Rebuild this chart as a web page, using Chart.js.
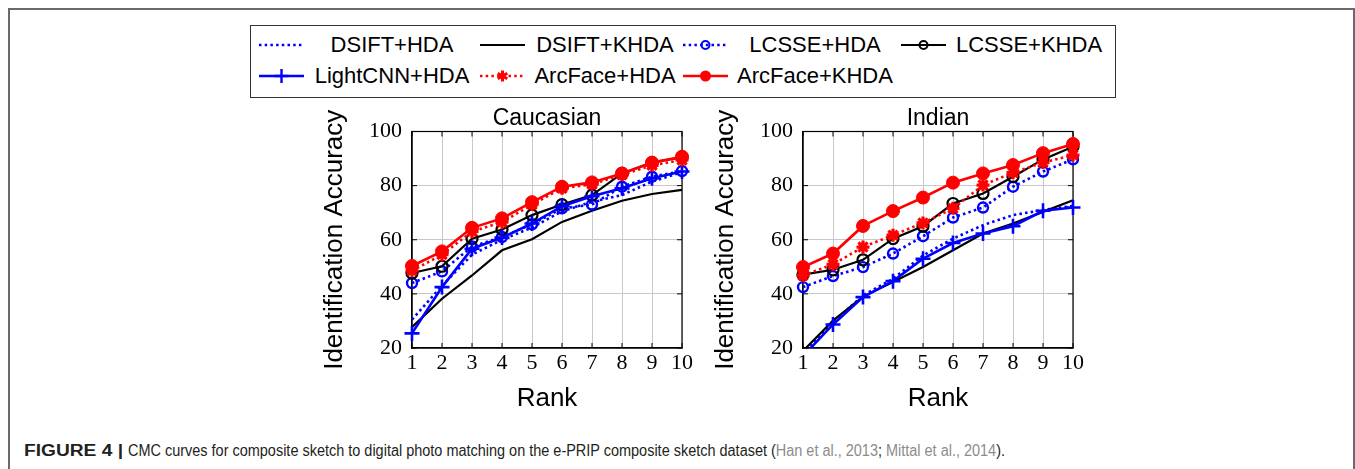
<!DOCTYPE html>
<html><head><meta charset="utf-8">
<script src="https://cdn.jsdelivr.net/npm/chart.js@4.4.1/dist/chart.umd.min.js"></script>
<style>
html,body{margin:0;padding:0;background:#fff;width:1355px;height:469px;overflow:hidden;position:relative;font-family:"Liberation Sans",Arial,sans-serif;}
#frame{position:absolute;left:8px;top:8px;width:1347px;height:480px;border:2px solid #6a6a6a;border-bottom:none;box-sizing:border-box;}
#legend{position:absolute;left:250px;top:25px;width:866px;height:73px;border:1px solid #333;box-sizing:border-box;}
.lt{position:absolute;font-size:22px;line-height:26px;color:#000;white-space:nowrap;transform:translateX(-50%);}
.ls{position:absolute;}
.ptitle{position:absolute;font-size:23px;line-height:26px;color:#000;white-space:nowrap;transform:translateX(-50%);top:104px;}
canvas{position:absolute;}
#c1{left:299px;top:100px;}
#c2{left:690px;top:100px;}
.cap{position:absolute;top:442px;font-size:16px;line-height:18px;color:#231f20;white-space:nowrap;transform-origin:0 0;font-family:"Liberation Sans",Arial,sans-serif;}
#capB{left:24px;font-weight:bold;}
#capR{left:128px;}
.cap .ref{color:#8c8c8c;}
</style>
</head><body>
<div id="frame"></div>
<div id="legend"></div>
<canvas id="c1" width="496" height="320"></canvas>
<canvas id="c2" width="496" height="320"></canvas>
<div class="ptitle" id="t1"></div>
<div class="ptitle" id="t2"></div>
<div class="cap" id="capB">FIGURE 4 |</div>
<div class="cap" id="capR">CMC curves for composite sketch to digital photo matching on the e-PRIP composite sketch dataset (<span class="ref">Han et al., 2013</span>; <span class="ref">Mittal et al., 2014</span>).</div>
<script>
// ---- data ----
const ranks = ['1','2','3','4','5','6','7','8','9','10'];
const yTicks = [20, 40, 60, 80, 100];
const seriesNames = ['DSIFT+HDA','DSIFT+KHDA','LCSSE+HDA','LCSSE+KHDA','LightCNN+HDA','ArcFace+HDA','ArcFace+KHDA'];
const panelTitles = ['Caucasian', 'Indian'];

// Caucasian
const cauDsiftHda    = [30.5, 43, 54.5, 60, 64.5, 70.5, 74, 76.5, 81.5, 85];
const cauDsiftKhda   = [27.7, 38.2, 46.8, 56.1, 60.2, 66.6, 70.7, 74.4, 76.9, 78.4];
const cauLcsseHda    = [44, 48.3, 57.5, 61, 65.7, 71.6, 73, 79.6, 83.3, 85.4];
const cauLcsseKhda   = [47.7, 50.2, 60.4, 63.8, 69.1, 73, 76.5, 84.5, 88.5, 90.5];
const cauLightcnnHda = [25.4, 42.5, 56.7, 60.8, 66, 72.4, 76.1, 79, 82.7, 85.2];
const cauArcfaceHda  = [48.5, 54.5, 63, 66.5, 73, 79, 80.5, 84, 87.5, 89.5];
const cauArcfaceKhda = [50.3, 55.7, 64.4, 67.9, 73.9, 79.6, 81.2, 84.5, 88.5, 90.7];

// Indian
const indDsiftHda    = [17.5, 29.5, 39.4, 45.6, 54.2, 60.4, 65.4, 69.1, 71, 72.5];
const indDsiftKhda   = [18.9, 30.1, 39, 44.4, 49.9, 56.1, 62.3, 66, 70.3, 74.6];
const indLcsseHda    = [42.5, 46.6, 49.9, 54.9, 61.3, 68.2, 71.9, 79.6, 85.2, 89.7];
const indLcsseKhda   = [47.1, 48.9, 52.6, 60.4, 65, 73.4, 77.1, 83.3, 89.7, 94.4];
const indLightcnnHda = [17, 28.7, 38.8, 44.7, 53, 58.8, 62.3, 65, 70.7, 71.9];
const indArcfaceHda  = [46.8, 50.9, 57.3, 61.7, 66.2, 71.6, 80.2, 84.8, 88.5, 91.3];
const indArcfaceKhda = [49.9, 54.9, 65.1, 70.6, 75.6, 81.1, 84.5, 87.6, 92, 95.4];

const cauSeries = [cauDsiftHda, cauDsiftKhda, cauLcsseHda, cauLcsseKhda, cauLightcnnHda, cauArcfaceHda, cauArcfaceKhda];
const indSeries = [indDsiftHda, indDsiftKhda, indLcsseHda, indLcsseKhda, indLightcnnHda, indArcfaceHda, indArcfaceKhda];

// ---- styles ----
const BLUE = '#0000ff', RED = '#ff0000', BLACK = '#000000';
const DOT = [2.5, 3.2];
const styles = [
  {color: BLUE,  dash: DOT, width: 2.6, point: false},
  {color: BLACK, dash: [],  width: 2.2, point: false},
  {color: BLUE,  dash: DOT, width: 2.6, point: 'circle', r: 5, pw: 2.4, fill: 'rgba(0,0,0,0)'},
  {color: BLACK, dash: [],  width: 2.2, point: 'circle', r: 5.5, pw: 2.2, fill: 'rgba(0,0,0,0)'},
  {color: BLUE,  dash: [],  width: 2.6, point: 'cross', r: 7.5, pw: 2.6, fill: BLUE},
  {color: RED,   dash: DOT, width: 2.6, point: 'star', r: 6.5, pw: 3.2, fill: RED},
  {color: RED,   dash: [],  width: 2.6, point: 'circle', r: 6.5, pw: 1, fill: RED},
];

function makeDatasets(series) {
  return series.map((vals, i) => {
    const s = styles[i];
    return {
      label: seriesNames[i],
      data: vals,
      borderColor: s.color,
      borderWidth: s.width,
      borderDash: s.dash,
      borderCapStyle: 'butt',
      tension: 0,
      fill: false,
      order: series.length - 1 - i,
      pointStyle: s.point || 'circle',
      pointRadius: s.point ? s.r : 0,
      pointBorderWidth: s.point ? s.pw : 0,
      pointBorderColor: s.color,
      pointBackgroundColor: s.point ? s.fill : s.color,
      clip: {left: 14, top: 14, right: 14, bottom: 0},
    };
  });
}

const frameTicks = {
  id: 'frameTicks',
  beforeDatasetsDraw(chart) {
    const {ctx, chartArea: a, scales: {x, y}} = chart;
    ctx.save();
    ctx.strokeStyle = '#000';
    ctx.lineWidth = 1.2;
    ctx.setLineDash([]);
    ctx.strokeRect(a.left, a.top, a.right - a.left, a.bottom - a.top);
    ctx.lineWidth = 1;
    const L = 5;
    ranks.forEach((r, i) => {
      const px = x.getPixelForValue(i);
      ctx.beginPath();
      ctx.moveTo(px, a.bottom); ctx.lineTo(px, a.bottom - L);
      ctx.moveTo(px, a.top); ctx.lineTo(px, a.top + L);
      ctx.stroke();
    });
    yTicks.forEach(v => {
      const py = y.getPixelForValue(v);
      ctx.beginPath();
      ctx.moveTo(a.left, py); ctx.lineTo(a.left + L, py);
      ctx.moveTo(a.right, py); ctx.lineTo(a.right - L, py);
      ctx.stroke();
    });
    ctx.restore();
  }
};

function makeChart(id, series) {
  return new Chart(document.getElementById(id), {
    type: 'line',
    data: {labels: ranks, datasets: makeDatasets(series)},
    options: {
      responsive: false,
      animation: false,
      devicePixelRatio: 1,
      layout: {padding: {left: 0, right: 113, top: 31.5, bottom: 0}},
      plugins: {
        legend: {display: false},
        tooltip: {enabled: false},
        title: {display: false}
      },
      scales: {
        x: {
          type: 'category',
          offset: false,
          grid: {color: '#c8c8c8', lineWidth: 1, drawTicks: false},
          border: {display: true, color: '#000', width: 1.2},
          ticks: {color: '#000', padding: 2, autoSkip: false, maxRotation: 0,
            font: {family: '"Liberation Serif", "Times New Roman", serif', size: 22}},
          title: {display: true, text: 'Rank', color: '#000',
            font: {family: '"Liberation Sans", Arial, sans-serif', size: 26},
            padding: {top: 0, bottom: 6}},
          afterFit(s) { s.height = 72; }
        },
        y: {
          min: 20, max: 100,
          grid: {color: '#c8c8c8', lineWidth: 1, drawTicks: false},
          border: {display: true, color: '#000', width: 1.2},
          ticks: {color: '#000', padding: 10, stepSize: 20,
            font: {family: '"Liberation Serif", "Times New Roman", serif', size: 22}},
          title: {display: true, text: 'Identification Accuracy', color: '#000',
            font: {family: '"Liberation Sans", Arial, sans-serif', size: 26},
            padding: {top: 20, bottom: 0}},
          afterFit(s) { s.width = 113; }
        }
      }
    },
    plugins: [frameTicks]
  });
}

const ch1 = makeChart('c1', cauSeries);
const ch2 = makeChart('c2', indSeries);

// panel titles centred over each plot area
[[ch1, 't1', 0], [ch2, 't2', 1]].forEach(([ch, id, k]) => {
  const el = document.getElementById(id);
  el.textContent = panelTitles[k];
  const cv = ch.canvas;
  el.style.left = (cv.offsetLeft + (ch.chartArea.left + ch.chartArea.right) / 2) + 'px';
});

// ---- legend (HTML) ----
const legendCols = [258, 479, 682, 900];   // sample start x (page)
const legendTextC = [391, 604, 814, 1028]; // text centre x (page)
const legendRows = [44, 75];               // row centre y (page)
const legendBox = {left: 250, top: 25};
const legend = document.getElementById('legend');
function markerSvg(s, cx, cy) {
  if (!s.point) return '';
  if (s.point === 'circle' && s.fill !== RED)
    return `<circle cx="${cx}" cy="${cy}" r="4" fill="none" stroke="${s.color}" stroke-width="2"/>`;
  if (s.point === 'circle')
    return `<circle cx="${cx}" cy="${cy}" r="5.5" fill="${s.color}"/>`;
  if (s.point === 'cross')
    return `<path d="M${cx-7} ${cy}H${cx+7}M${cx} ${cy-7}V${cy+7}" stroke="${s.color}" stroke-width="2.4"/>`;
  if (s.point === 'star') {
    let d = '';
    for (let k = 0; k < 3; k++) {
      const ang = Math.PI / 2 + k * Math.PI / 3;
      const dx = 5.5 * Math.cos(ang), dy = 5.5 * Math.sin(ang);
      d += `M${cx-dx} ${cy-dy}L${cx+dx} ${cy+dy}`;
    }
    return `<path d="${d}" stroke="${s.color}" stroke-width="3"/><circle cx="${cx}" cy="${cy}" r="3" fill="${s.color}"/>`;
  }
  return '';
}
seriesNames.forEach((name, i) => {
  const row = i < 4 ? 0 : 1;
  const col = i < 4 ? i : i - 4;
  const s = styles[i];
  const sx = legendCols[col] - legendBox.left;
  const cy = legendRows[row] - legendBox.top;
  const svg = document.createElementNS('http://www.w3.org/2000/svg', 'svg');
  svg.setAttribute('class', 'ls');
  svg.setAttribute('width', '50'); svg.setAttribute('height', '20');
  svg.style.left = (sx - 2) + 'px';
  svg.style.top = (cy - 10) + 'px';
  const dash = s.dash.length ? `stroke-dasharray="${s.dash.join(' ')}"` : '';
  svg.innerHTML = `<line x1="2" y1="10" x2="47" y2="10" stroke="${s.color}" stroke-width="${s.width}" ${dash}/>` + markerSvg(s, 24.5, 10);
  legend.appendChild(svg);
  const t = document.createElement('div');
  t.className = 'lt';
  t.textContent = name;
  t.style.left = (legendTextC[col] - legendBox.left) + 'px';
  t.style.top = (cy - 13) + 'px';
  legend.appendChild(t);
});

// fit caption widths
const capB = document.getElementById('capB');
capB.style.transform = `scaleX(${99 / capB.getBoundingClientRect().width})`;
const capR = document.getElementById('capR');
capR.style.transform = `scaleX(${877 / capR.getBoundingClientRect().width})`;
</script>
</body></html>
